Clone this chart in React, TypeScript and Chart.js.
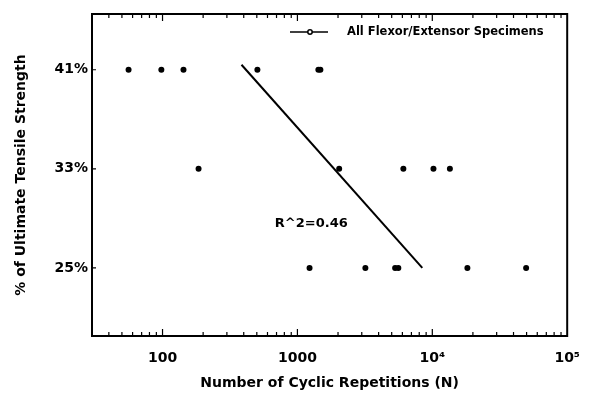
import { useEffect, useRef } from "react";
import { Chart, registerables } from "chart.js";
Chart.register(...registerables);

// Cycles to failure (N) at each stress level (% of ultimate tensile strength)
const cycles41 = [56, 98, 143, 505, 1430, 1480];
const cycles33 = [185, 2040, 6100, 10200, 13500];
const cycles25 = [1230, 3190, 5300, 5600, 18200, 49600];
const stressLevels = [41, 33, 25];
// Regression line end points
const fitX = [385, 8430];
const fitY = [41.4, 25];
const xTickValues = [100, 1000, 10000, 100000];
const xTickLabels = ["100", "1000", "10\u2074", "10\u2075"];
const yTickValues = [25, 33, 41];
const legendLabel = "All Flexor/Extensor Specimens";
const annotationText = "R^2=0.46";
const annotationAt = { x: 680, y: 28.6 };

const FONT = '"DejaVu Sans", "Liberation Sans", sans-serif';

export default function App() {
  const ref = useRef<HTMLCanvasElement | null>(null);
  useEffect(() => {
    document.body.style.margin = "0";
    const canvas = ref.current;
    if (!canvas) return;
    const groups = [cycles41, cycles33, cycles25];
    const points: { x: number; y: number }[] = [];
    groups.forEach((g, i) => g.forEach((x) => points.push({ x, y: stressLevels[i] })));

    const framePlugin = {
      id: "frame",
      afterDraw(chart: any) {
        const { ctx, chartArea: a, scales } = chart;
        const xs = scales.x;
        const ys = scales.y;
        ctx.save();
        ctx.strokeStyle = "#000";
        ctx.lineWidth = 2;
        ctx.strokeRect(a.left, a.top, a.right - a.left, a.bottom - a.top);
        ctx.lineWidth = 1.2;
        ctx.beginPath();
        for (let d = 10; d <= 100000; d *= 10) {
          for (let m = 1; m <= 9; m++) {
            const v = m * d;
            if (v <= xs.min || v >= xs.max) continue;
            const px = xs.getPixelForValue(v);
            const len = m === 1 ? 7 : 4;
            ctx.moveTo(px, a.bottom);
            ctx.lineTo(px, a.bottom - len);
            ctx.moveTo(px, a.top);
            ctx.lineTo(px, a.top + len);
          }
        }
        for (const v of yTickValues) {
          const py = ys.getPixelForValue(v);
          ctx.moveTo(a.left, py);
          ctx.lineTo(a.left + 4, py);
        }
        ctx.stroke();

        // legend
        const ly = a.top + 18;
        const lx = a.left + 198;
        ctx.lineWidth = 1.5;
        ctx.beginPath();
        ctx.moveTo(lx, ly);
        ctx.lineTo(lx + 38, ly);
        ctx.stroke();
        ctx.beginPath();
        ctx.fillStyle = "#fff";
        ctx.arc(lx + 20, ly, 2.2, 0, Math.PI * 2);
        ctx.fill();
        ctx.stroke();
        ctx.fillStyle = "#000";
        ctx.font = "bold 11.5px " + FONT;
        ctx.textAlign = "left";
        ctx.textBaseline = "middle";
        ctx.fillText(legendLabel, lx + 57, ly);

        // annotation
        ctx.font = "bold 13px " + FONT;
        ctx.fillText(annotationText, xs.getPixelForValue(annotationAt.x), ys.getPixelForValue(annotationAt.y));
        ctx.restore();
      },
    };

    const chart = new Chart(canvas, {
      type: "scatter",
      data: {
        datasets: [
          {
            label: legendLabel,
            data: points,
            pointRadius: 3,
            pointBackgroundColor: "#000",
            pointBorderWidth: 0,
            showLine: false,
          },
          {
            label: "fit",
            data: fitX.map((x, i) => ({ x, y: fitY[i] })),
            showLine: true,
            borderColor: "#000",
            borderWidth: 2,
            pointRadius: 0,
          },
        ],
      },
      options: {
        responsive: false,
        animation: false,
        layout: { padding: { top: 14, right: 25, left: 0, bottom: 0 } },
        plugins: { legend: { display: false }, tooltip: { enabled: false } },
        scales: {
          x: {
            type: "logarithmic",
            min: 30,
            max: 100000,
            grid: { display: false, drawTicks: false },
            border: { display: false },
            afterBuildTicks(scale: any) {
              scale.ticks = xTickValues.map((value) => ({ value }));
            },
            afterFit(scale: any) {
              scale.height = 58;
            },
            ticks: {
              autoSkip: false,
              maxRotation: 0,
              padding: 14,
              color: "#000",
              font: { family: FONT, size: 14, weight: "bold" },
              callback(value: any) {
                const i = xTickValues.indexOf(Number(value));
                return i >= 0 ? xTickLabels[i] : "";
              },
            },
            title: {
              display: true,
              text: "Number of Cyclic Repetitions (N)",
              color: "#000",
              font: { family: FONT, size: 14, weight: "bold" },
              padding: { top: 0, bottom: 2 },
            },
          },
          y: {
            min: 19.5,
            max: 45.5,
            grid: { display: false, drawTicks: false },
            border: { display: false },
            afterBuildTicks(scale: any) {
              scale.ticks = yTickValues.map((value) => ({ value }));
            },
            afterFit(scale: any) {
              scale.width = 92;
            },
            ticks: {
              padding: 4,
              color: "#000",
              font: { family: FONT, size: 14, weight: "bold" },
              callback(value: any) {
                return value + "%";
              },
            },
            title: {
              display: true,
              text: "% of Ultimate Tensile Strength",
              color: "#000",
              font: { family: FONT, size: 14, weight: "bold" },
              padding: { top: 13, bottom: 0 },
            },
          },
        },
      },
      plugins: [framePlugin],
    });
    return () => chart.destroy();
  }, []);
  return (
    <div style={{ width: 594, height: 394 }}>
      <canvas ref={ref} width={594} height={394} style={{ display: "block" }} />
    </div>
  );
}
